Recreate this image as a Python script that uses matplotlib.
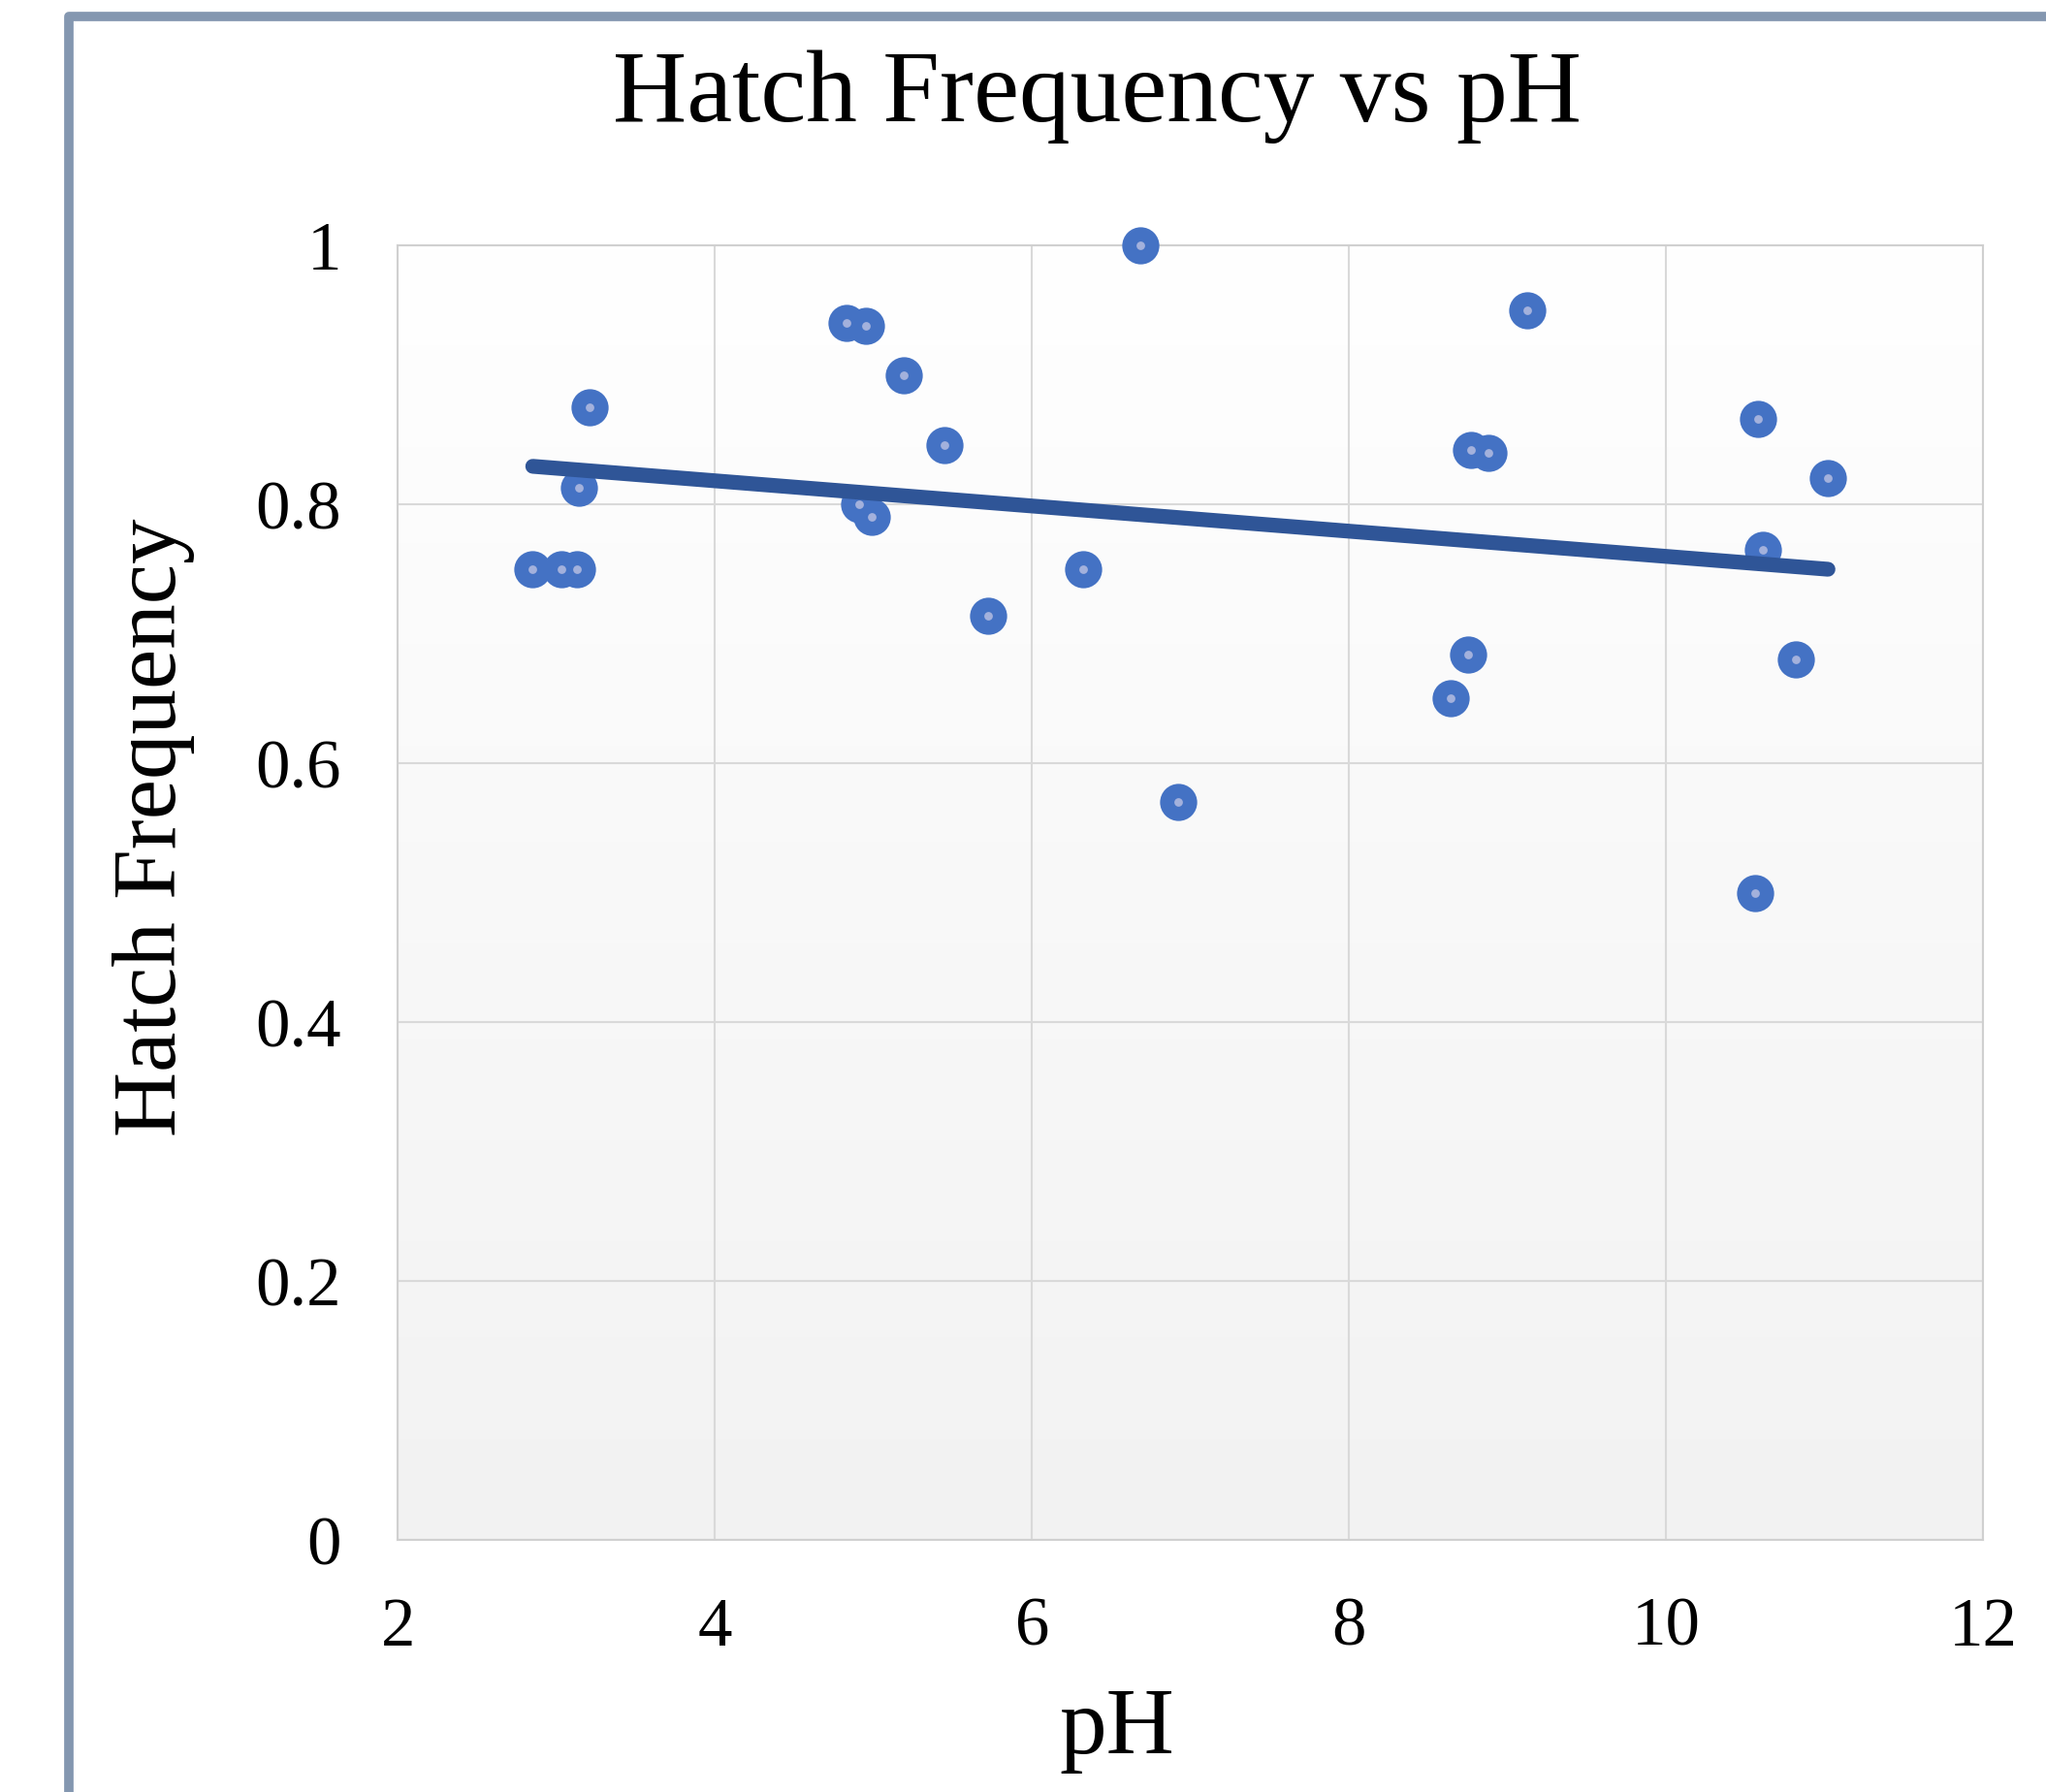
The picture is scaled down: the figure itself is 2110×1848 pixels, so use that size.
import numpy as np
import matplotlib
matplotlib.use("Agg")
import matplotlib.pyplot as plt
from matplotlib.lines import Line2D
from matplotlib.colors import LinearSegmentedColormap

# ---- data ----
ph = [2.85, 3.03, 3.13, 3.14, 3.21, 4.83, 4.95, 4.91, 4.99, 5.19, 5.45, 5.72,
      6.32, 6.68, 6.92, 8.64, 8.75, 8.77, 8.88, 9.12, 10.56, 10.58, 10.61,
      10.82, 11.02]
hatch = [0.75, 0.75, 0.75, 0.8125, 0.875, 0.94, 0.9375, 0.80, 0.79, 0.90,
         0.846, 0.714, 0.75, 1.0, 0.57, 0.65, 0.684, 0.842, 0.840, 0.95,
         0.50, 0.866, 0.765, 0.68, 0.82]
x_ticks = [2, 4, 6, 8, 10, 12]
y_ticks = [0, 0.2, 0.4, 0.6, 0.8, 1.0]
y_tick_labels = ["0", "0.2", "0.4", "0.6", "0.8", "1"]

FONT = "Liberation Serif"
W, H = 2110, 1848
fig = plt.figure(figsize=(W / 100, H / 100), dpi=100)
fig.patch.set_facecolor("white")

# outer chart border (partially cropped)
bx, by = 71 / W, 1 - 17 / H
fig.add_artist(Line2D([bx, bx, 1.02], [-0.02, by, by], transform=fig.transFigure,
                      color="#8497B0", linewidth=7, solid_joinstyle="round"))

ax = fig.add_axes([305 / 1568, 1 - 1180 / 1373, (1520 - 305) / 1568, (1180 - 188) / 1373])
ax.set_xlim(2, 12)
ax.set_ylim(0, 1)

# gradient background
grad = np.linspace(0, 1, 256).reshape(-1, 1)
cmap = LinearSegmentedColormap.from_list("bg", ["#F2F2F2", "#FFFFFF"])
ax.imshow(grad, extent=[2, 12, 0, 1], origin="lower", aspect="auto", cmap=cmap, zorder=0)

ax.set_xticks(x_ticks)
ax.set_yticks(y_ticks)
ax.set_yticklabels(y_tick_labels)
ax.grid(True, color="#D9D9D9", linewidth=1.5, zorder=1)
ax.set_axisbelow(True)
for s in ax.spines.values():
    s.set_color("#D0D0D0")
    s.set_linewidth(1.5)
ax.tick_params(length=0, labelsize=51, pad=42)
for lab in ax.get_xticklabels() + ax.get_yticklabels():
    lab.set_fontfamily(FONT)

# points
ax.scatter(ph, hatch, s=760, color="#4472C4", zorder=3, linewidths=0, clip_on=False)
ax.scatter(ph, hatch, s=40, color="#A3B1DC", zorder=4, linewidths=0, clip_on=False)

# linear trendline
coef = np.polyfit(ph, hatch, 1)
tx = np.array([min(ph), max(ph)])
ax.plot(tx, np.polyval(coef, tx), color="#2F5597", linewidth=11,
        solid_capstyle="round", zorder=5)

fig.text(1132 / W, 1 - 100 / H, "Hatch Frequency vs pH", fontsize=76,
         family=FONT, ha="center", va="center")
fig.text(1152 / W, 1 - 1785 / H, "pH", fontsize=70, family=FONT,
         ha="center", va="center")
fig.text(159 / W, 1 - 853 / H, "Hatch Frequency", fontsize=67, family=FONT,
         ha="center", va="center", rotation=90)

fig.savefig("out.png", dpi=100)
